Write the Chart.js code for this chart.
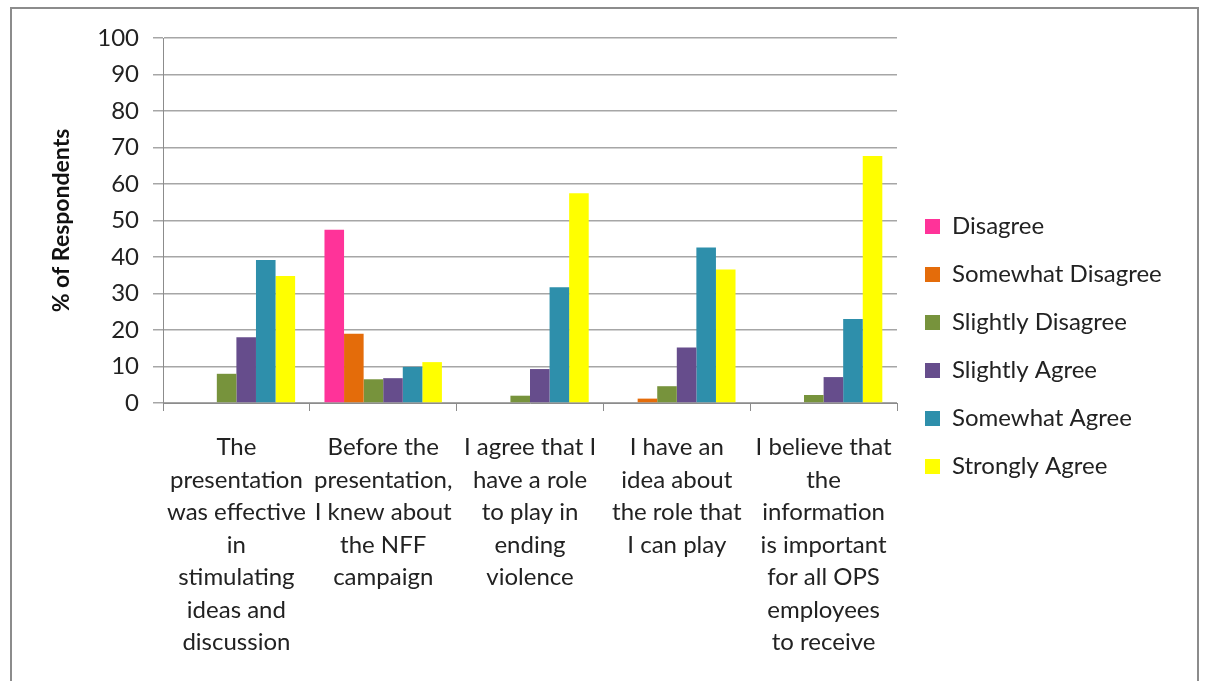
<!DOCTYPE html>
<html>
<head>
<meta charset="utf-8">
<script src="https://cdn.jsdelivr.net/npm/chart.js@4/dist/chart.umd.min.js"></script>
<style>
  html, body { margin: 0; padding: 0; background: #fff; }
  #wrap { position: relative; width: 1209px; height: 681px; overflow: hidden; }
  #frame { position: absolute; left: 10px; top: 7px; width: 1189px; height: 700px; border: 2px solid #8c8c8c; box-sizing: border-box; }
  #box { position: absolute; left: 0; top: 0; width: 1209px; height: 681px; }
</style>
</head>
<body>
<div id="wrap">
  <div id="frame"></div>
  <div id="box"><canvas id="survey-chart"></canvas></div>
</div>
<script>
// survey statements (x axis), already wrapped the way the original was
const statements = [
    ['The', 'presentation', 'was effective', 'in', 'stimulating', 'ideas and', 'discussion'],
    ['Before the', 'presentation,', 'I knew about', 'the NFF', 'campaign'],
    ['I agree that I', 'have a role', 'to play in', 'ending', 'violence'],
    ['I have an', 'idea about', 'the role that', 'I can play'],
    ['I believe that', 'the', 'information', 'is important', 'for all OPS', 'employees', 'to receive']
];

const responses = ['Disagree', 'Somewhat Disagree', 'Slightly Disagree', 'Slightly Agree', 'Somewhat Agree', 'Strongly Agree'];

// % of respondents per statement
const disagree         = [0,    47.5, 0,    0,    0];
const somewhatDisagree = [0,    19,   0,    1.2,  0];
const slightlyDisagree = [8,    6.5,  2,    4.6,  2.2];
const slightlyAgree    = [18,   6.8,  9.3,  15.2, 7.1];
const somewhatAgree    = [39.2, 9.9,  31.7, 42.6, 23];
const stronglyAgree    = [34.8, 11.2, 57.5, 36.6, 67.7];

const yTicks = [0, 10, 20, 30, 40, 50, 60, 70, 80, 90, 100];

const colors  = ['#ff3399', '#e46c0a', '#77933c', '#664d8c', '#2e8fab', '#ffff00'];
const borders = ['#c21f72', '#a94f06', '#566c2a', '#463261', '#1f6478', '#c9c900'];

const seriesValues = [disagree, somewhatDisagree, slightlyDisagree, slightlyAgree, somewhatAgree, stronglyAgree];

const FONT = 'Lato, "Open Sans", sans-serif';
const LEGEND_W = 300;

// fix legend width / nudge it so the plot area and legend sit where the original has them
const legendPlacePlugin = {
    id: 'legendPlace',
    beforeLayout(chart) {
        const lg = chart.legend;
        if (lg && !lg._fixedWidth) {
            const origFit = lg.fit.bind(lg);
            lg.fit = function () {
                origFit();
                this.width = LEGEND_W;
            };
            lg._fixedWidth = true;
        }
    },
    afterLayout(chart) {
        const lg = chart.legend;
        if (!lg) return;
        lg.left += 4; lg.right += 4;
        lg.top -= 13; lg.bottom -= 13;
    }
};

const datasets = responses.map(function (name, i) {
    return {
        label: name,
        data: seriesValues[i],
        backgroundColor: colors[i],
        borderColor: borders[i],
        borderWidth: 0,
        categoryPercentage: 0.8,
        barPercentage: 1.0
    };
});

const ctx = document.getElementById('survey-chart').getContext('2d');
const chart = new Chart(ctx, {
    type: 'bar',
    data: {
        labels: statements,
        datasets: datasets
    },
    plugins: [legendPlacePlugin],
    options: {
        responsive: true,
        maintainAspectRatio: false,
        animation: false,
        layout: {
            padding: { left: 40, top: 38, right: 12, bottom: 0 }
        },
        plugins: {
            tooltip: { enabled: false },
            legend: {
                display: true,
                position: 'right',
                align: 'center',
                labels: {
                    color: '#222',
                    font: { family: FONT, size: 24 },
                    boxWidth: 15,
                    boxHeight: 15,
                    padding: 24
                }
            }
        },
        scales: {
            x: {
                afterFit(scale) { scale.height = 278; },
                grid: {
                    display: true,
                    offset: true,
                    drawOnChartArea: false,
                    drawTicks: true,
                    tickLength: 8,
                    color: '#8c8c8c'
                },
                border: { display: true, color: '#8c8c8c', width: 1 },
                ticks: {
                    color: '#222',
                    font: { family: FONT, size: 24, lineHeight: 1.355 },
                    padding: 20,
                    maxRotation: 0,
                    autoSkip: false
                }
            },
            y: {
                min: 0,
                max: 100,
                afterFit(scale) { scale.width = 123; },
                afterBuildTicks(scale) {
                    scale.ticks = yTicks.map(function (v) { return { value: v }; });
                },
                grid: {
                    color: '#a6a6a6',
                    tickLength: 10,
                    lineWidth: 1.5
                },
                border: { display: true, color: '#8c8c8c', width: 1 },
                ticks: {
                    color: '#222',
                    font: { family: FONT, size: 24 },
                    padding: 14
                },
                title: {
                    display: true,
                    text: '% of Respondents',
                    color: '#111',
                    font: { family: FONT, size: 23, weight: 'bold' },
                    padding: { top: 8, bottom: 0 }
                }
            }
        }
    }
});
</script>
</body>
</html>
